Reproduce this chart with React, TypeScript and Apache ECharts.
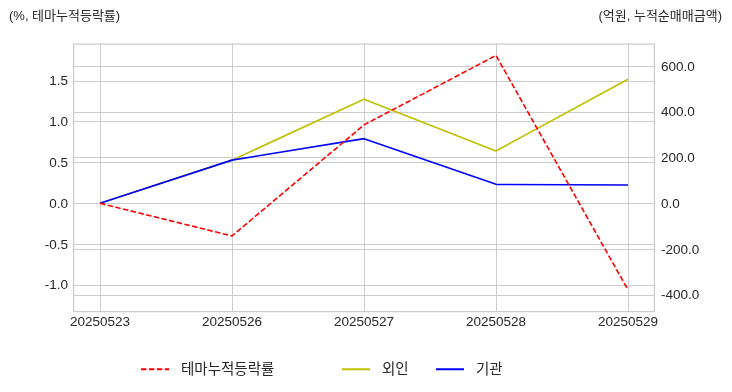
import React, { useEffect, useRef } from "react";
import * as echarts from "echarts";

const dates = ["20250523", "20250526", "20250527", "20250528", "20250529"];
const themeReturn = [0, -0.4, 0.96, 1.81, -1.06];
const foreign = [0, 189, 455, 229, 543];
const institution = [0, 189, 283, 83, 80];
const leftTicks = [-1, -0.5, 0, 0.5, 1, 1.5];
const rightTicks = [-400, -200, 0, 200, 400, 600];
const xTicks = [0, 1, 2, 3, 4];

const FONT = '"Liberation Sans", "Noto Sans CJK KR", sans-serif';

export default function App() {
  const ref = useRef<HTMLDivElement>(null);
  useEffect(() => {
    if (!ref.current) return;
    const chart = echarts.init(ref.current, null, { renderer: "svg" });
    const labelColor = "#262626";
    const legendBase = {
      top: 362,
      padding: 0,
      itemWidth: 28,
      itemHeight: 12,
      itemStyle: { opacity: 0 },
      textStyle: { fontSize: 14.5, color: labelColor, fontFamily: FONT, padding: [0, 0, 0, 7] },
    };
    chart.setOption({
      animation: false,
      textStyle: { fontFamily: FONT },
      title: [
        {
          text: "(%, 테마누적등락률)",
          left: 9,
          top: 9,
          padding: 0,
          textStyle: { fontSize: 13, fontWeight: "normal", color: labelColor, fontFamily: FONT },
        },
        {
          text: "(억원, 누적순매매금액)",
          right: 10,
          top: 9,
          padding: 0,
          textStyle: { fontSize: 13, fontWeight: "normal", color: labelColor, fontFamily: FONT },
        },
      ],
      grid: {
        left: 73.6,
        right: 77.6,
        top: 44,
        bottom: 80.3,
        show: true,
        borderColor: "#cccccc",
        borderWidth: 1.25,
        backgroundColor: "#fff",
      },
      xAxis: {
        type: "value",
        min: -0.2,
        max: 4.2,
        axisLine: { show: false },
        axisTick: { show: false, customValues: xTicks },
        axisLabel: {
          customValues: xTicks,
          formatter: (v: number) => dates[Math.round(v)] ?? "",
          color: labelColor,
          fontSize: 13.5,
          margin: 3,
          fontFamily: FONT,
        },
        splitLine: { show: true, lineStyle: { color: "#cccccc", width: 1 } },
      },
      yAxis: [
        {
          type: "value",
          position: "left",
          min: -1.327,
          max: 1.95,
          axisLine: { show: false },
          axisTick: { show: false, customValues: leftTicks },
          axisLabel: {
            customValues: leftTicks,
            formatter: (v: number) => v.toFixed(1),
            color: labelColor,
            fontSize: 13.5,
            margin: 5.5,
            fontFamily: FONT,
          },
          splitLine: { show: true, lineStyle: { color: "#cccccc", width: 1 } },
        },
        {
          type: "value",
          position: "right",
          min: -474,
          max: 697,
          axisLine: { show: false },
          axisTick: { show: false, customValues: rightTicks },
          axisLabel: {
            customValues: rightTicks,
            formatter: (v: number) => v.toFixed(1),
            color: labelColor,
            fontSize: 13.5,
            margin: 6.5,
            fontFamily: FONT,
          },
          splitLine: { show: true, lineStyle: { color: "#cccccc", width: 1 } },
        },
      ],
      legend: [
        { ...legendBase, data: ["테마누적등락률"], left: 140 },
        { ...legendBase, data: ["외인"], left: 341 },
        { ...legendBase, data: ["기관"], left: 435 },
      ],
      series: [
        {
          name: "테마누적등락률",
          type: "line",
          yAxisIndex: 0,
          data: themeReturn.map((v, i) => [i, v]),
          showSymbol: false,
          symbol: "none",
          color: "#ff0000",
          lineStyle: { color: "#ff0000", width: 1.6, type: [5.5, 2.4] },
          z: 5,
        },
        {
          name: "외인",
          type: "line",
          yAxisIndex: 1,
          data: foreign.map((v, i) => [i, v]),
          showSymbol: false,
          symbol: "none",
          color: "#bfbf00",
          lineStyle: { color: "#bfbf00", width: 1.6 },
          z: 3,
        },
        {
          name: "기관",
          type: "line",
          yAxisIndex: 1,
          data: institution.map((v, i) => [i, v]),
          showSymbol: false,
          symbol: "none",
          color: "#0000ff",
          lineStyle: { color: "#0000ff", width: 1.6 },
          z: 4,
        },
      ],
    });
    return () => chart.dispose();
  }, []);
  return <div ref={ref} style={{ width: 732, height: 392, position: "fixed", left: 0, top: 0 }} />;
}
